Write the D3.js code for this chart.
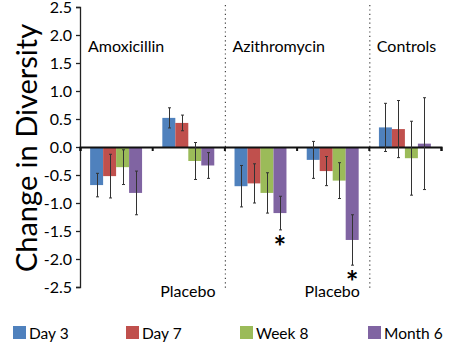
<!DOCTYPE html>
<html><head><meta charset="utf-8">
<script src="https://cdn.jsdelivr.net/npm/d3@7"></script>
<style>body{margin:0;background:#fff}svg{display:block}text{font-family:Lato,"Open Sans",sans-serif;fill:#000}</style>
</head><body><svg id="c" width="449" height="342"></svg>
<script>
const categories = ["Amoxicillin","Placebo","Azithromycin","Placebo","Controls"];
const series = ["Day 3","Day 7","Week 8","Month 6"];
const colors = ["#4F81BD","#C0504D","#9BBB59","#8064A2"];
// values[category][series]
const day3   = [-0.68, 0.52, -0.70, -0.23, 0.35];
const day7   = [-0.52, 0.43, -0.65, -0.43, 0.32];
const week8  = [-0.36, -0.25, -0.82, -0.60, -0.20];
const month6 = [-0.82, -0.33, -1.18, -1.66, 0.06];
const err3   = [0.21, 0.18, 0.37, 0.33, 0.43];
const err7   = [0.39, 0.14, 0.35, 0.26, 0.51];
const err8   = [0.31, 0.33, 0.36, 0.32, 0.66];
const err6   = [0.39, 0.23, 0.30, 0.45, 0.82];
const yTicks = [2.5,2.0,1.5,1.0,0.5,0.0,-0.5,-1.0,-1.5,-2.0,-2.5];
const significant = [[2,3],[3,3]]; // [category index, series index]
const yTitle = "Change in Diversity";

(function(){
const vals = [day3, day7, week8, month6];
const errs = [err3, err7, err8, err6];
const svg = d3.select("#c");
const x0 = d3.scaleBand().domain(d3.range(categories.length)).range([80, 441]).paddingInner(0).paddingOuter(0);
const x1 = d3.scaleBand().domain(d3.range(series.length)).range([0, x0.bandwidth()]).paddingInner(0).paddingOuter(0.78);
const y = d3.scaleLinear().domain([-2.5, 2.5]).range([287, 7]);

// dotted separators
[2, 4].forEach(i => {
  svg.append("line").attr("x1", x0(i)+1).attr("x2", x0(i)+1).attr("y1", 5).attr("y2", 290)
    .attr("stroke", "#444").attr("stroke-width", 1.2).attr("stroke-dasharray", "1.2,3.2");
});

// bars
const data = [];
categories.forEach((c, ci) => series.forEach((s, si) => data.push({ci, si, v: vals[si][ci], e: errs[si][ci]})));
svg.selectAll("rect.bar").data(data).join("rect").attr("class","bar")
  .attr("x", d => x0(d.ci) + x1(d.si)).attr("width", x1.bandwidth())
  .attr("y", d => y(Math.max(0, d.v))).attr("height", d => Math.abs(y(d.v) - y(0)))
  .attr("fill", d => colors[d.si]);

// y axis
const fmt = v => d3.format(".1f")(v).replace("−", "-");
const ya = svg.append("g").attr("transform", "translate(80,0)")
  .call(d3.axisLeft(y).tickValues(yTicks).tickFormat(fmt).tickSize(4).tickPadding(4));
ya.select(".domain").attr("stroke", "#222").attr("stroke-width", 1.3);
ya.selectAll(".tick line").attr("stroke", "#222").attr("stroke-width", 1.3);
ya.selectAll(".tick text").style("font-size", "16px").style("font-family", "Lato,sans-serif").attr("fill", "#000");

// x axis at zero
const xa = svg.append("g").attr("transform", `translate(0,${y(0)})`)
  .call(d3.axisBottom(d3.scaleLinear().domain([0, categories.length]).range([80, 441]))
    .tickValues(d3.range(categories.length + 1)).tickSize(4).tickFormat(""));
xa.select(".domain").attr("stroke", "#111").attr("stroke-width", 2);
xa.selectAll(".tick line").attr("stroke", "#111").attr("stroke-width", 2);

// error bars
const eb = svg.append("g").attr("stroke", "#333").attr("stroke-width", 1);
data.forEach(d => {
  const cx = Math.round(x0(d.ci) + x1(d.si) + x1.bandwidth()/2) + 0.5;
  eb.append("line").attr("x1", cx).attr("x2", cx).attr("y1", y(d.v + d.e)).attr("y2", y(d.v - d.e));
  eb.append("line").attr("x1", cx-1.5).attr("x2", cx+1.5).attr("y1", y(d.v + d.e)).attr("y2", y(d.v + d.e));
  eb.append("line").attr("x1", cx-1.5).attr("x2", cx+1.5).attr("y1", y(d.v - d.e)).attr("y2", y(d.v - d.e));
});

// significance asterisks
significant.forEach(([ci, si]) => {
  const v = vals[si][ci], e = errs[si][ci];
  svg.append("text").attr("x", x0(ci) + x1(si) + x1.bandwidth()/2).attr("y", y(v - e) + 28)
    .attr("text-anchor", "middle").style("font-size", "30px").style("font-weight", "bold").text("*");
});

// category labels
const topIdx = [0, 2, 4], bottomIdx = [1, 3];
topIdx.forEach(i => svg.append("text").attr("x", x0(i) + 8).attr("y", 52).style("font-size", "16px").text(categories[i]));
bottomIdx.forEach(i => svg.append("text").attr("x", x0(i) + 8).attr("y", 297).style("font-size", "16px").text(categories[i]));

// y title
svg.append("text").attr("transform", "translate(37,148) rotate(-90)").attr("text-anchor", "middle")
  .style("font-size", "29px").text(yTitle);

// legend
const lx = [13, 126, 240, 368];
series.forEach((s, i) => {
  svg.append("rect").attr("x", lx[i]).attr("y", 326).attr("width", 13).attr("height", 13).attr("fill", colors[i]);
  svg.append("text").attr("x", lx[i] + 16).attr("y", 339).style("font-size", "15.5px").text(s);
});
})();
</script></body></html>
